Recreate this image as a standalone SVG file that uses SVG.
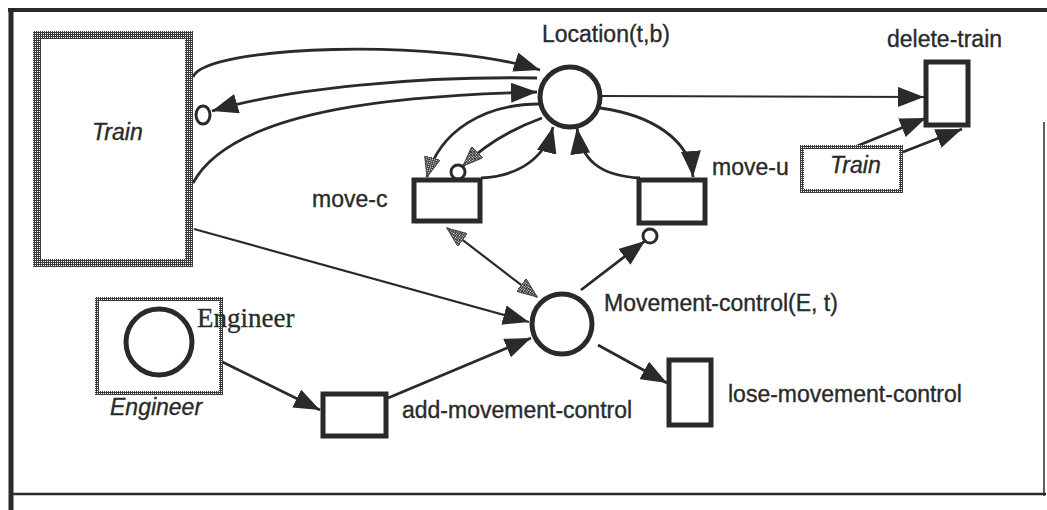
<svg xmlns="http://www.w3.org/2000/svg" width="1047" height="510" viewBox="0 0 1047 510">
  <style>
    .lbl { font-family: "Liberation Sans", Arial, sans-serif; font-size: 23px; fill: #2a2a2a; stroke: #2a2a2a; stroke-width: 0.35; }
    .it { font-style: italic; }
    .serif { font-family: "Liberation Serif", "Times New Roman", serif; font-size: 27px; fill: #2a2a2a; stroke: #2a2a2a; stroke-width: 0.3; }
    .edge { fill: none; stroke: #2a2a2a; stroke-width: 2.8; }
    .thin { fill: none; stroke: #2a2a2a; stroke-width: 2.2; }
    .place { fill: #fff; stroke: #2a2a2a; stroke-width: 5; }
    .trans { fill: #fff; stroke: #2a2a2a; stroke-width: 5; }
    .inh { fill: #fff; stroke: #2a2a2a; stroke-width: 3; }
    .hatchbox { fill: #fff; stroke: url(#hatch); }
  </style>
  <defs>
    <pattern id="hatch" width="2" height="2" patternUnits="userSpaceOnUse">
      <rect width="2" height="2" fill="#3a3a3a"/>
      <rect x="1" y="1" width="1" height="1" fill="#fff"/>
    </pattern>
    <marker id="arrow" markerUnits="userSpaceOnUse" markerWidth="28" markerHeight="20" refX="26" refY="10" orient="auto">
      <path d="M0,0 L26,10 L0,20 z" fill="#2a2a2a"/>
    </marker>
    <marker id="arrowG" markerUnits="userSpaceOnUse" markerWidth="22" markerHeight="16" refX="20" refY="8" orient="auto-start-reverse">
      <path d="M0,0 L20,8 L0,16 z" fill="url(#hatch)" stroke="#444" stroke-width="1"/>
    </marker>
  </defs>

  <rect width="1047" height="510" fill="#fff"/>

  <!-- outer frame -->
  <g id="frame" stroke="#2a2a2a" fill="none">
    <line x1="8" y1="10" x2="1047" y2="10" stroke-width="4"/>
    <line x1="11" y1="8" x2="11" y2="510" stroke-width="5"/>
    <line x1="11" y1="494" x2="1046" y2="494" stroke-width="2.5"/>
    <line x1="1044" y1="122" x2="1044" y2="496" stroke-width="1.5"/>
  </g>

  <!-- arcs -->
  <g id="connectors">
    <!-- Train -> Location (upper) -->
    <path class="edge" d="M193,77 C205,45 440,38 540,70" marker-end="url(#arrow)"/>
    <!-- Location -> Train (inhibitor) -->
    <path class="edge" d="M537,78 C420,76 290,88 212,111" marker-end="url(#arrow)"/>
    <ellipse class="inh" cx="203" cy="115" rx="7" ry="9"/>
    <!-- Train -> Location (lower) -->
    <path class="edge" d="M193,183 C235,105 420,95 537,92" marker-end="url(#arrow)"/>
    <!-- Location -> delete-train -->
    <path class="thin" d="M600,96 L924,97" marker-end="url(#arrow)"/>
    <!-- Train (small) -> delete-train -->
    <path class="edge" d="M857,146 L926,118" marker-end="url(#arrow)"/>
    <path class="edge" d="M903,152 L962,129" marker-end="url(#arrow)"/>
    <!-- Location <-> move-c -->
    <path class="edge" d="M539,104 C485,104 440,130 427,177" marker-end="url(#arrowG)"/>
    <path class="edge" d="M542,118 Q495,135 463,166" marker-end="url(#arrowG)"/>
    <circle class="inh" cx="458" cy="172" r="7"/>
    <path class="edge" d="M481,178 C522,176 546,155 553,127" marker-end="url(#arrow)"/>
    <!-- Location <-> move-u -->
    <path class="edge" d="M600,108 C652,115 690,140 693,177" marker-end="url(#arrow)"/>
    <path class="edge" d="M640,178 C600,176 581,160 577,128" marker-end="url(#arrow)"/>
    <!-- move-c <-> Movement-control -->
    <path class="thin" d="M447,228 L537,297" marker-start="url(#arrowG)" marker-end="url(#arrowG)"/>
    <!-- Movement-control -> move-u (inhibitor) -->
    <path class="edge" d="M581,290 L645,241" marker-end="url(#arrow)"/>
    <circle class="inh" cx="650" cy="236" r="7"/>
    <!-- Train -> Movement-control -->
    <path class="thin" d="M194,229 L529,322" marker-end="url(#arrow)"/>
    <!-- Engineer -> add-movement-control -->
    <path class="edge" d="M194,348 L320,410" marker-end="url(#arrow)"/>
    <!-- add-movement-control -> Movement-control -->
    <path class="edge" d="M388,398 L531,338" marker-end="url(#arrow)"/>
    <!-- Movement-control -> lose-movement-control -->
    <path class="edge" d="M598,345 L667,383" marker-end="url(#arrow)"/>
  </g>

  <!-- Train (large) -->
  <g id="train">
    <rect class="hatchbox" x="37" y="35" width="152" height="228" stroke-width="8"/>
    <text class="lbl it" x="92" y="140">Train</text>
  </g>

  <!-- Location(t,b) -->
  <g id="location">
    <circle class="place" cx="570" cy="97" r="30"/>
    <text class="lbl" x="542" y="42">Location(t,b)</text>
  </g>

  <!-- delete-train -->
  <g id="delete-train">
    <rect class="trans" x="926" y="62" width="42" height="63"/>
    <text class="lbl" x="887" y="47">delete-train</text>
  </g>

  <!-- Train (small) -->
  <g id="train-small">
    <rect class="hatchbox" x="802" y="147" width="99" height="44" stroke-width="4"/>
    <text class="lbl it" x="830" y="173">Train</text>
  </g>

  <!-- move-c -->
  <g id="move-c">
    <rect class="trans" x="414" y="180" width="66" height="41"/>
    <text class="lbl" x="312" y="207">move-c</text>
  </g>

  <!-- move-u -->
  <g id="move-u">
    <rect class="trans" x="639" y="180" width="66" height="43"/>
    <text class="lbl" x="712" y="175">move-u</text>
  </g>

  <!-- Movement-control(E, t) -->
  <g id="movement-control">
    <circle class="place" cx="562" cy="324" r="30"/>
    <text class="lbl" x="604" y="311">Movement-control(E, t)</text>
  </g>

  <!-- Engineer -->
  <g id="engineer">
    <rect class="hatchbox" x="97" y="299" width="124" height="94" stroke-width="4"/>
    <circle class="place" cx="159" cy="342" r="33"/>
    <text class="serif" x="197" y="327">Engineer</text>
    <text class="lbl it" x="110" y="415">Engineer</text>
  </g>

  <!-- add-movement-control -->
  <g id="add-movement-control">
    <rect class="trans" x="323" y="394" width="63" height="42"/>
    <text class="lbl" x="402" y="418">add-movement-control</text>
  </g>

  <!-- lose-movement-control -->
  <g id="lose-movement-control">
    <rect class="trans" x="669" y="360" width="42" height="65"/>
    <text class="lbl" x="728" y="402">lose-movement-control</text>
  </g>
</svg>
